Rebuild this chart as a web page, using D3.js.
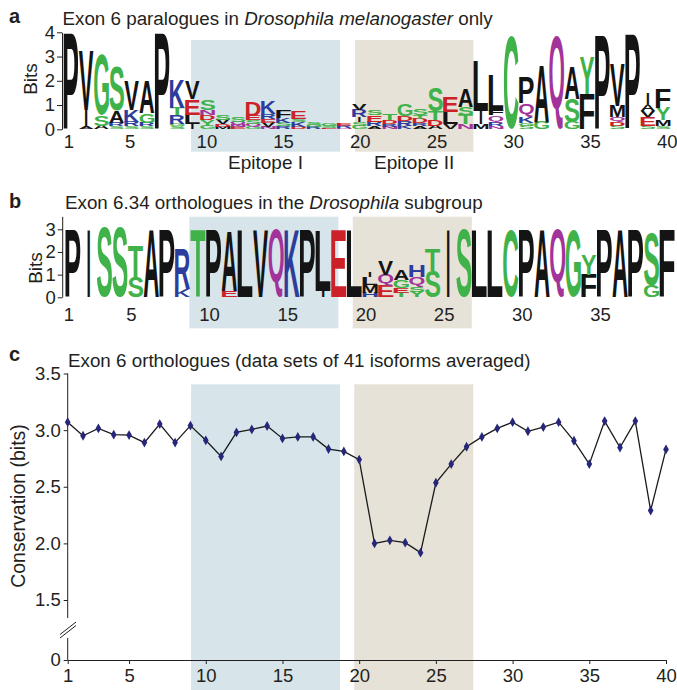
<!DOCTYPE html>
<html><head><meta charset="utf-8">
<script src="https://cdn.jsdelivr.net/npm/d3@7"></script>
<style>
body{margin:0;background:#fff;}
svg text{font-family:"Liberation Sans",Arial,Helvetica,sans-serif;fill:#231f20;}
</style></head><body>
<svg id="chart" width="677" height="690"></svg>
<script>
// ---------------- DATA ----------------
// Panel a: sequence logo, stacks listed bottom -> top as [residue, bits]
const logoA = [
  [["P",3.95]],
  [["A",0.08],["I",0.7],["V",2.45]],
  [["A",0.15],["S",0.45],["G",2.5]],
  [["S",0.12],["R",0.15],["A",0.5],["S",1.85]],
  [["S",0.12],["R",0.18],["K",0.5],["V",1.2]],
  [["S",0.12],["R",0.15],["G",0.4],["A",1.35]],
  [["P",3.95]],
  [["S",0.12],["G",0.1],["R",0.35],["T",0.3],["K",1.2]],
  [["I",0.2],["L",0.4],["E",0.65],["V",0.75]],
  [["G",0.15],["Y",0.25],["D",0.2],["N",0.2],["S",0.41]],
  [["M",0.1],["D",0.1],["V",0.18],["S",0.22]],
  [["E",0.08],["N",0.1],["Q",0.1],["S",0.2]],
  [["G",0.12],["Q",0.1],["S",0.15],["E",0.18],["D",0.6]],
  [["N",0.1],["V",0.18],["E",0.15],["R",0.2],["K",0.55]],
  [["R",0.12],["S",0.15],["K",0.2],["F",0.3]],
  [["D",0.1],["K",0.2],["S",0.12],["E",0.3]],
  [["R",0.08],["G",0.08],["S",0.1]],
  [["E",0.06],["S",0.08],["G",0.1]],
  [["N",0.06],["R",0.08],["E",0.1]],
  [["G",0.15],["S",0.15],["I",0.2],["R",0.3],["V",0.28]],
  [["A",0.12],["R",0.2],["E",0.25],["S",0.23]],
  [["N",0.1],["R",0.12],["D",0.15],["T",0.25]],
  [["K",0.15],["R",0.2],["D",0.2],["G",0.5]],
  [["A",0.12],["R",0.12],["D",0.18],["T",0.18],["S",0.28]],
  [["A",0.15],["D",0.25],["T",0.35],["S",0.95]],
  [["V",0.2],["L",0.5],["E",0.65]],
  [["N",0.2],["T",0.4],["S",0.3],["A",0.75]],
  [["M",0.2],["I",0.55],["L",2.05]],
  [["N",0.12],["R",0.15],["Q",0.3],["F",0.2],["L",1.45]],
  [["C",3.85]],
  [["S",0.15],["G",0.1],["K",0.25],["Q",0.55],["P",1.05]],
  [["G",0.3],["A",2.35]],
  [["Q",3.85]],
  [["G",0.3],["S",0.95],["A",1.35]],
  [["F",1.45],["Y",1.55]],
  [["P",3.85]],
  [["S",0.15],["D",0.15],["Q",0.2],["M",0.45],["V",1.75]],
  [["P",3.9]],
  [["S",0.14],["E",0.35],["V",0.25],["A",0.25],["I",0.45]],
  [["S",0.12],["M",0.25],["Y",0.5],["F",0.8]]
];
// Panel b: sequence logo, stacks bottom -> top
const logoB = [
  [["P",2.95]],
  [["I",2.95]],
  [["S",3.05]],
  [["S",3.05]],
  [["S",0.9],["T",1.35]],
  [["A",2.95]],
  [["P",2.95]],
  [["K",0.35],["R",1.75]],
  [["T",2.95]],
  [["P",2.95]],
  [["E",0.3],["A",2.65]],
  [["L",2.95]],
  [["V",2.95]],
  [["Q",3.05]],
  [["K",2.95]],
  [["P",2.95]],
  [["I",0.3],["L",2.65]],
  [["E",2.95]],
  [["L",2.95]],
  [["H",0.2],["M",0.35],["L",0.35],["I",0.25]],
  [["E",0.5],["Q",0.5],["V",0.6]],
  [["T",0.2],["E",0.2],["G",0.35],["A",0.45]],
  [["Y",0.25],["S",0.2],["Q",0.45],["H",0.5]],
  [["S",1.15],["T",0.95]],
  [["I",2.95]],
  [["S",3.0]],
  [["L",2.95]],
  [["L",2.95]],
  [["C",2.95]],
  [["P",2.95]],
  [["A",2.95]],
  [["Q",3.05]],
  [["G",2.95]],
  [["F",1.0],["Y",0.9]],
  [["P",2.95]],
  [["A",2.95]],
  [["P",2.95]],
  [["G",0.5],["S",2.3]],
  [["F",2.95]]
];
// Panel c: averaged conservation per position
const positionsC = d3.range(1, 41);
const conservation = [3.07,2.95,3.015,2.96,2.956,2.89,3.053,2.89,3.04,2.91,
  2.768,2.98,3.006,3.036,2.927,2.94,2.94,2.833,2.812,2.74,
  2.0,2.027,2.006,1.918,2.535,2.70,2.853,2.94,3.015,3.07,
  2.99,3.027,3.07,2.906,2.70,3.08,2.847,3.08,2.29,2.83];

const ticksA = [1,5,10,15,20,25,30,35,40];
const ticksB = [1,5,10,15,20,25,30,35];
const ticksC = [1,5,10,15,20,25,30,35,40];
const bitTicksA = [0,1,2,3,4];
const bitTicksB = [0,1,2,3];
const conservationTicks = [0,1.5,2.0,2.5,3.0,3.5];
const epitopeSpansA = [[9.0,18.71],[19.69,27.4]];
const epitopeSpansB = [[8.74,18.27],[19.19,26.8]];
const epitopeSpansC = [[9.04,18.75],[19.68,27.44]];
const epitopeLabels = ["Epitope I","Epitope II"];

// ---------------- STYLE ----------------
const shadeColors = ["#d7e4e9","#e7e2d8"];
const green="#3fb24a", blue="#2c3d9c", red="#cc2128", purple="#a2339a", black="#141414";
const residueColor = r => "GSTYC".includes(r)?green : "KRH".includes(r)?blue : "DE".includes(r)?red : "NQ".includes(r)?purple : black;
const FONT = '"Liberation Sans", Arial, Helvetica, sans-serif';
const TITLE_SIZE = 18.8, TICK_SIZE = 18.5, LABEL_SIZE = 19;

const svg = d3.select("#chart");

// glyph metrics for stretching letters into boxes
const ctx = document.createElement("canvas").getContext("2d");
ctx.font = `bold 100px ${FONT}`;
const metricCache = {};
function glyph(ch){
  if(!metricCache[ch]){
    const m = ctx.measureText(ch);
    metricCache[ch] = {l:m.actualBoundingBoxLeft, r:m.actualBoundingBoxRight, a:m.actualBoundingBoxAscent, d:m.actualBoundingBoxDescent};
  }
  return metricCache[ch];
}

function drawLogo(g, data, x, y, colW){
  data.forEach((stack, i) => {
    const pos = i + 1;
    let cum = 0;
    stack.forEach(([ch, h]) => {
      const y0 = y(cum + h), y1 = y(cum);
      cum += h;
      const bh = y1 - y0;
      if (bh < 0.4) return;
      let bw = colW * 0.97;
      if (ch === "I") bw = Math.max(2, colW * 0.16);
      const bx = x(pos) - bw/2;
      const m = glyph(ch);
      const sx = bw / (m.l + m.r), sy = bh / (m.a + m.d);
      g.append("text")
        .attr("x", 0).attr("y", 0)
        .attr("font-size", 100)
        .attr("font-weight", "bold")
        .style("fill", residueColor(ch))
        .attr("transform", `translate(${bx},${y0}) scale(${sx},${sy}) translate(${m.l},${m.a})`)
        .text(ch);
    });
  });
}

function shade(g, spans, x, yTop, yBot){
  g.selectAll("rect.shade").data(spans).join("rect")
    .attr("class","shade")
    .attr("x", d => x(d[0])).attr("width", d => x(d[1]) - x(d[0]))
    .attr("y", yTop).attr("height", yBot - yTop)
    .attr("fill", (d,i) => shadeColors[i]);
}

function panelLabel(letter, yBase){
  svg.append("text").attr("x", 9).attr("y", yBase).attr("font-size", 20).attr("font-weight","bold").text(letter);
}
function title(parts, xPos, yBase){
  const t = svg.append("text").attr("x", xPos).attr("y", yBase).attr("font-size", TITLE_SIZE);
  parts.forEach(([s, it]) => t.append("tspan").attr("font-style", it ? "italic" : "normal").text(s));
}
function styleAxis(ax){
  ax.selectAll("text").attr("font-size",TICK_SIZE).attr("font-family",FONT).attr("fill","#231f20");
  ax.selectAll("line,path").attr("stroke","#231f20");
}

// ---------------- PANEL A ----------------
const xA = d3.scaleLinear().domain([1,40]).range([71,663]);
const xLabA = d3.scaleLinear().domain([1,40]).range([68.3,666.7]);
const yA = d3.scaleLinear().domain([0,4]).range([129.3,32.3]);
const gA = svg.append("g");
shade(gA, epitopeSpansA, xLabA, 40, 151.7);
drawLogo(gA, logoA, xA, yA, xA(2)-xA(1));
const axA = gA.append("g").attr("transform","translate(62,0)")
  .call(d3.axisLeft(yA).tickValues(bitTicksA).tickFormat(d3.format("d")).tickSize(5).tickSizeOuter(0).tickPadding(2));
styleAxis(axA);
const xaxA = gA.append("g").attr("transform","translate(0,130)")
  .call(d3.axisBottom(xLabA).tickValues(ticksA).tickSize(0).tickPadding(5));
xaxA.select(".domain").remove();
styleAxis(xaxA);
gA.append("text").attr("transform","translate(37,79) rotate(-90)").attr("text-anchor","middle").attr("font-size",LABEL_SIZE).text("Bits");
gA.selectAll("text.epi").data(epitopeSpansA).join("text").attr("class","epi")
  .attr("x", d => xLabA((d[0]+d[1])/2)).attr("y", 169).attr("text-anchor","middle").attr("font-size",LABEL_SIZE)
  .text((d,i) => epitopeLabels[i]);
panelLabel("a", 23);
title([["Exon 6 paralogues in ",false],["Drosophila melanogaster",true],[" only",false]], 62.5, 25);

// ---------------- PANEL B ----------------
const xB = d3.scaleLinear().domain([1,39]).range([73,667]);
const xLabB = d3.scaleLinear().domain([1,35]).range([68.3,600]);
const yB = d3.scaleLinear().domain([0,3]).range([297.3,229.3]);
const gB = svg.append("g");
shade(gB, epitopeSpansB, xLabB, 216.7, 328.3);
drawLogo(gB, logoB, xB, yB, xB(2)-xB(1));
const axB = gB.append("g").attr("transform","translate(62.7,0)")
  .call(d3.axisLeft(yB).tickValues(bitTicksB).tickFormat(d3.format("d")).tickSize(5).tickSizeOuter(0).tickPadding(2));
axB.select(".domain").attr("d", `M0,${yB(3.55)}V${yB(0)}`);
styleAxis(axB);
const xaxB = gB.append("g").attr("transform","translate(0,304)")
  .call(d3.axisBottom(xLabB).tickValues(ticksB).tickSize(0).tickPadding(4));
xaxB.select(".domain").remove();
styleAxis(xaxB);
gB.append("text").attr("transform","translate(41.5,268) rotate(-90)").attr("text-anchor","middle").attr("font-size",LABEL_SIZE).text("Bits");
panelLabel("b", 208);
title([["Exon 6.34 orthologues in the ",false],["Drosophila",true],[" subgroup",false]], 65, 208.5);

// ---------------- PANEL C ----------------
const xC = d3.scaleLinear().domain([1,40]).range([67.7,666]);
const yC = d3.scaleLinear().domain([0,1.5,3.5]).range([660,600,373.5]);
const gC = svg.append("g");
shade(gC, epitopeSpansC, xC, 384.3, 690);
const axC = gC.append("g").attr("transform","translate(67.7,0)")
  .call(d3.axisLeft(yC).tickValues(conservationTicks).tickFormat(d => d===0 ? "0" : d3.format(".1f")(d)).tickSize(4).tickSizeOuter(0).tickPadding(3));
axC.select(".domain").attr("d", `M0,${yC(3.5)}V618M0,638V${yC(0)}`);
styleAxis(axC);
// axis break marks
gC.append("path").attr("d","M60,634.5L76,622M60,638L76,625.5").attr("stroke","#231f20").attr("fill","none").attr("stroke-width",1);
const xaxC = gC.append("g").attr("transform",`translate(0,${yC(0)})`)
  .call(d3.axisBottom(xC).tickValues(ticksC).tickSize(4).tickSizeOuter(0).tickPadding(5));
styleAxis(xaxC);
gC.append("text").attr("transform","translate(25,506) rotate(-90)").attr("text-anchor","middle").attr("font-size",19.5).text("Conservation (bits)");
gC.append("path").datum(conservation)
  .attr("d", d3.line().x((d,i) => xC(positionsC[i])).y(d => yC(d)))
  .attr("fill","none").attr("stroke","#1a1a1a").attr("stroke-width",1.3);
gC.selectAll("path.pt").data(conservation).join("path").attr("class","pt")
  .attr("transform",(d,i) => `translate(${xC(positionsC[i])},${yC(d)})`)
  .attr("d", d3.symbol(d3.symbolDiamond, 28))
  .attr("fill","#26267a");
panelLabel("c", 361);
title([["Exon 6 orthologues (data sets of 41 isoforms averaged)",false]], 68, 367);
</script>
</body></html>
